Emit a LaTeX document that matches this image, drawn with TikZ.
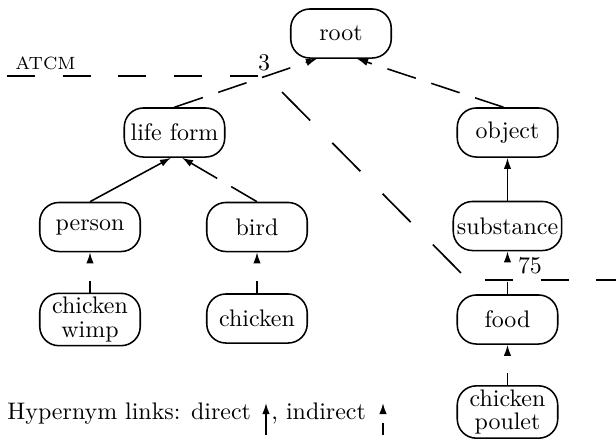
\documentclass[tikz,border=0pt]{standalone}
\usetikzlibrary{arrows.meta,calc}
\begin{document}
\begin{tikzpicture}[x=0.418pt,y=-0.418pt,
  box/.style={draw, line width=0.65pt, rounded corners=8pt, minimum width=42pt,
    minimum height=20.5pt, inner xsep=1.5pt, inner ysep=1.5pt, align=center,
    font=\fontsize{10}{10}\selectfont},
  tip/.style={-{Latex[length=4.6pt,width=3.1pt]}},
  direct/.style={tip, line width=0.65pt},
  indirect/.style={tip, line width=0.65pt, dash pattern=on 12.5pt off 6.8pt},
  indirectshort/.style={tip, line width=0.65pt, dash pattern=on 5pt off 10pt},
  cuth/.style={line width=0.7pt, dash pattern=on 11.7pt off 11.6pt},
  cutd/.style={line width=0.7pt, dash pattern=on 16.7pt off 13.2pt},
  lbl/.style={inner sep=0pt, font=\fontsize{10}{12}\selectfont}]
\useasboundingbox (0,0) rectangle (616,439);

% nodes
\node[box] (root) at (341,33.5) {root};
\node[box] (life) at (174.5,132.5) {life form};
\node[box] (object) at (507.5,132.5) {object};
\node[box] (person) at (90,227) {person};
\node[box] (bird) at (257,227) {bird};
\node[box] (subst) at (507.5,226) {substance};
\node[box] (wimp) at (90,319.5) {chicken\\wimp};
\node[box] (chick) at (257,318.5) {chicken};
\node[box] (food) at (507.5,319.5) {food};
\node[box] (poulet) at (507.5,412) {chicken\\poulet};

% hypernym links
\draw[indirect] (life.north) -- ($(root.south)+(-24,0)$);
\draw[indirect] ($(object.north)+(-4,0)$) -- ($(root.south)+(16,0)$);
\draw[direct] (person.north) -- ($(life.south)+(-3.5,0)$);
\draw[indirect] (bird.north) -- ($(life.south)+(7.5,0)$);
\draw[direct] (subst.north) -- (object.south);
\draw[indirectshort] (wimp.north) -- (person.south);
\draw[indirectshort] (chick.north) -- (bird.south);
\draw[indirectshort] (food.north) -- (subst.south);
\draw[indirectshort] (poulet.north) -- (food.south);

% cut line
\coordinate (ca) at (7,76);
\coordinate (cb) at (258,76);
\coordinate (cc) at (282,92);
\coordinate (cd) at (461,273);
\coordinate (ce) at (485,280);
\coordinate (cf) at (616,280);
\draw[cuth] (ca) -- (cb);
\draw[cutd] (cc) -- (cd);
\draw[cuth] (ce) -- (cf);

\node[inner sep=0pt, font=\fontsize{7.4}{8}\selectfont] (atcm) at (45.5,63) {ATCM};
\node[lbl] (n3) at (264,63) {3};
\node[lbl] (n75) at (530,266) {75};

% legend
\node[lbl, anchor=base west] (leg) at (7,419) {Hypernym links: direct};
\coordinate (da) at (266,435);
\coordinate (db) at (266,403);
\draw[direct] (da) -- (db);
\node[lbl, anchor=base west] (leg2) at (271,419) {, indirect};
\coordinate (ia) at (383,435);
\coordinate (ib) at (383,403);
\draw[indirectshort] (ia) -- (ib);
\end{tikzpicture}
\end{document}
